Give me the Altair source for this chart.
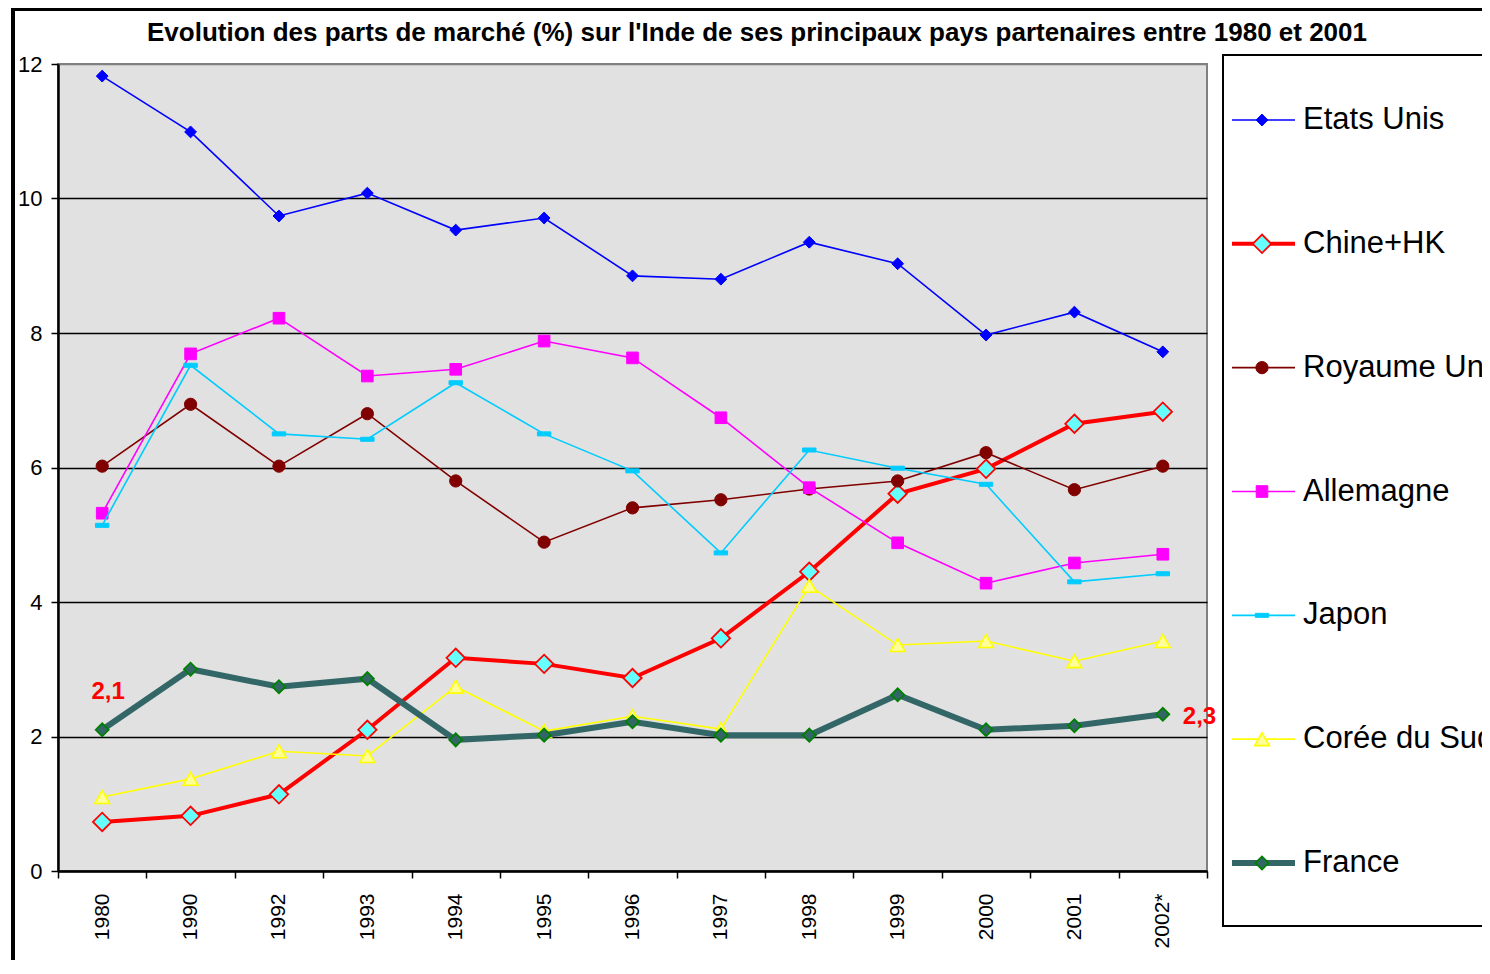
import altair as alt
import pandas as pd

# ---------------- data ----------------
years = ["1980", "1990", "1992", "1993", "1994", "1995", "1996",
         "1997", "1998", "1999", "2000", "2001", "2002*"]
series_names = ["Etats Unis", "Chine+HK", "Royaume Uni", "Allemagne",
                "Japon", "Corée du Sud", "France"]

etats_unis = [11.82, 10.99, 9.74, 10.08, 9.53, 9.71, 8.85, 8.80, 9.35, 9.03, 7.97, 8.31, 7.72]
chine_hk = [0.73, 0.82, 1.14, 2.10, 3.17, 3.08, 2.87, 3.46, 4.45, 5.61, 5.98, 6.65, 6.83]
royaume_uni = [6.02, 6.94, 6.02, 6.80, 5.80, 4.89, 5.40, 5.52, 5.68, 5.80, 6.22, 5.67, 6.02]
allemagne = [5.32, 7.69, 8.22, 7.36, 7.46, 7.88, 7.63, 6.74, 5.70, 4.88, 4.28, 4.58, 4.71]
japon = [5.14, 7.52, 6.50, 6.42, 7.26, 6.50, 5.95, 4.73, 6.26, 5.99, 5.75, 4.30, 4.42]
coree_du_sud = [1.10, 1.37, 1.78, 1.71, 2.74, 2.08, 2.30, 2.11, 4.24, 3.36, 3.42, 3.12, 3.42]
france = [2.10, 3.00, 2.74, 2.86, 1.95, 2.02, 2.22, 2.02, 2.02, 2.62, 2.10, 2.16, 2.33]

y_ticks = [0, 2, 4, 6, 8, 10, 12]
title_text = ("Evolution des parts de marché (%) sur l'Inde de ses principaux "
              "pays partenaires entre 1980 et 2001")

series_values = {
    "Etats Unis": etats_unis,
    "Chine+HK": chine_hk,
    "Royaume Uni": royaume_uni,
    "Allemagne": allemagne,
    "Japon": japon,
    "Corée du Sud": coree_du_sud,
    "France": france,
}

rows = []
for name in series_names:
    for k, v in enumerate(series_values[name]):
        rows.append({"serie": name, "i": k, "annee": years[k], "valeur": v})
df = pd.DataFrame(rows)
legend_df = pd.DataFrame({"serie": series_names})
one_row = pd.DataFrame({"k": [0]})

# ---------------- styles ----------------
FONT = "Liberation Sans"
W, H = 1149, 807

dash_path = "M-1,-0.3L1,-0.3L1,0.3L-1,0.3Z"
styles = {
    "Etats Unis":   dict(line="#0000FF", lw=1.6, shape="diamond", size=140, fill="#0000FF", stroke="#0000FF", sw=1),
    "Chine+HK":     dict(line="#FF0000", lw=4, shape="diamond", size=340, fill="#66FFFF", stroke="#FF0000", sw=1.8),
    "Royaume Uni":  dict(line="#800000", lw=1.6, shape="circle", size=150, fill="#800000", stroke="#800000", sw=1),
    "Allemagne":    dict(line="#FF00FF", lw=1.6, shape="square", size=135, fill="#FF00FF", stroke="#FF00FF", sw=1),
    "Japon":        dict(line="#00CCFF", lw=1.6, shape=dash_path, size=180, fill="#00CCFF", stroke="#00CCFF", sw=1),
    "Corée du Sud": dict(line="#FFFF00", lw=1.6, shape="triangle-up", size=220, fill="#FFFF99", stroke="#FFFF00", sw=1.6),
    "France":       dict(line="#336666", lw=6, shape="diamond", size=170, fill="#336666", stroke="#008000", sw=1.8),
}

x_scale = alt.Scale(domain=[-0.5, len(years) - 0.5], nice=False, zero=False)
y_scale = alt.Scale(domain=[0, 12], nice=False, zero=True)

label_expr = "[" + ",".join("'%s'" % y for y in years) + "][datum.value]"

tick_axis = alt.Axis(
    orient="bottom", values=[k - 0.5 for k in range(len(years) + 1)],
    labels=False, ticks=True, tickSize=7, tickWidth=1.5, tickColor="black",
    domain=True, domainColor="black", domainWidth=2.5, grid=False, title=None,
    labelFlush=False)
label_axis = alt.Axis(
    orient="bottom", values=list(range(len(years))), labels=True,
    labelExpr=label_expr, labelAngle=270, labelAlign="right", labelBaseline="middle",
    labelFontSize=21, labelColor="black", labelFont=FONT, labelPadding=22,
    ticks=False, tickSize=0, domain=False, grid=False, title=None,
    labelOverlap=False, labelFlush=False)
y_axis = alt.Axis(
    orient="left", values=y_ticks, labelFontSize=22, labelColor="black", labelFont=FONT,
    labelPadding=9, tickSize=7, tickWidth=1.5, tickColor="black",
    domain=True, domainColor="black", domainWidth=2.5,
    grid=True, gridWidth=1.5,
    gridColor={"condition": {"test": "datum.value === 12", "value": "#808080"}, "value": "black"},
    title=None, labelFlush=False, labelOverlap=False)

layers = []

# series lines + markers (drawn in series order, later on top)
for idx, name in enumerate(series_names):
    st = styles[name]
    d = df[df.serie == name]
    line = alt.Chart(d).mark_line(color=st["line"], strokeWidth=st["lw"]).encode(
        x=alt.X("i:Q", scale=x_scale, axis=tick_axis if idx == 0 else None),
        y=alt.Y("valeur:Q", scale=y_scale, axis=y_axis if idx == 0 else None),
    )
    pts = alt.Chart(d).mark_point(
        shape=st["shape"], size=st["size"], filled=True, fill=st["fill"],
        stroke=st["stroke"], strokeWidth=st["sw"], opacity=1, fillOpacity=1
    ).encode(
        x=alt.X("i:Q", scale=x_scale, axis=label_axis if idx == 0 else None),
        y=alt.Y("valeur:Q", scale=y_scale, axis=None),
    )
    layers += [line, pts]

# data labels for France (first and last points)
fr = df[df.serie == "France"]
lab_calc = "replace(format(datum.valeur, '.1f'), '.', ',')"
lab_first = alt.Chart(fr[fr.i == 0]).transform_calculate(lab=lab_calc).mark_text(
    color="#FF0000", fontWeight="bold", fontSize=24, font=FONT,
    align="center", baseline="middle", dx=6, dy=-38
).encode(x=alt.X("i:Q", scale=x_scale, axis=None),
         y=alt.Y("valeur:Q", scale=y_scale, axis=None), text="lab:N")
lab_last = alt.Chart(fr[fr.i == len(years) - 1]).transform_calculate(lab=lab_calc).mark_text(
    color="#FF0000", fontWeight="bold", fontSize=24, font=FONT,
    align="left", baseline="middle", dx=20, dy=3
).encode(x=alt.X("i:Q", scale=x_scale, axis=None),
         y=alt.Y("valeur:Q", scale=y_scale, axis=None), text="lab:N")
layers += [lab_first, lab_last]

# legend (drawn manually)
leg_y_scale = alt.Scale(type="point", domain=series_names, range=[56, 799], padding=0)
for name in series_names:
    st = styles[name]
    d = legend_df[legend_df.serie == name]
    ly = alt.Y("serie:N", scale=leg_y_scale, axis=None)
    layers.append(alt.Chart(d).mark_rule(color=st["line"], strokeWidth=st["lw"]).encode(
        x=alt.value(1174), x2=alt.value(1237), y=ly))
    layers.append(alt.Chart(d).mark_point(
        shape=st["shape"], size=st["size"], filled=True, fill=st["fill"],
        stroke=st["stroke"], strokeWidth=st["sw"], opacity=1, fillOpacity=1
    ).encode(x=alt.value(1204), y=ly))
    layers.append(alt.Chart(d).mark_text(
        fontSize=31, font=FONT, color="black", align="left", baseline="middle"
    ).encode(x=alt.value(1245), y=ly, text="serie:N"))

# legend box (left, top, bottom edges; right edge is off-screen)
layers.append(alt.Chart(one_row).mark_rule(color="black", strokeWidth=2).encode(
    x=alt.value(1165), y=alt.value(-9), y2=alt.value(862)))
layers.append(alt.Chart(one_row).mark_rule(color="black", strokeWidth=2).encode(
    x=alt.value(1164), x2=alt.value(1500), y=alt.value(-9)))
layers.append(alt.Chart(one_row).mark_rule(color="black", strokeWidth=2).encode(
    x=alt.value(1164), x2=alt.value(1500), y=alt.value(862)))

# outer chart frame (left and top edges)
layers.append(alt.Chart(one_row).mark_rule(color="black", strokeWidth=4).encode(
    x=alt.value(-45), y=alt.value(-57), y2=alt.value(920)))
layers.append(alt.Chart(one_row).mark_rule(color="black", strokeWidth=4).encode(
    x=alt.value(-47), x2=alt.value(1500), y=alt.value(-55)))

# title
layers.append(alt.Chart(one_row).mark_text(
    text=title_text, fontSize=26, fontWeight="bold", font=FONT, color="black",
    align="center", baseline="alphabetic"
).encode(x=alt.value(699), y=alt.value(-23)))

chart = alt.layer(*layers).resolve_scale(
    y="independent"
).resolve_axis(
    x="independent", y="independent"
).properties(
    width=W, height=H,
    autosize=alt.AutoSizeParams(type="none"),
    padding={"left": 50, "top": 56, "right": 275, "bottom": 89},
    background="white",
).configure(
    font=FONT
).configure_view(
    fill="#E1E1E1", stroke="#808080", strokeWidth=2
)

chart.save("out.html", embed_options={"renderer": "svg", "actions": False})
